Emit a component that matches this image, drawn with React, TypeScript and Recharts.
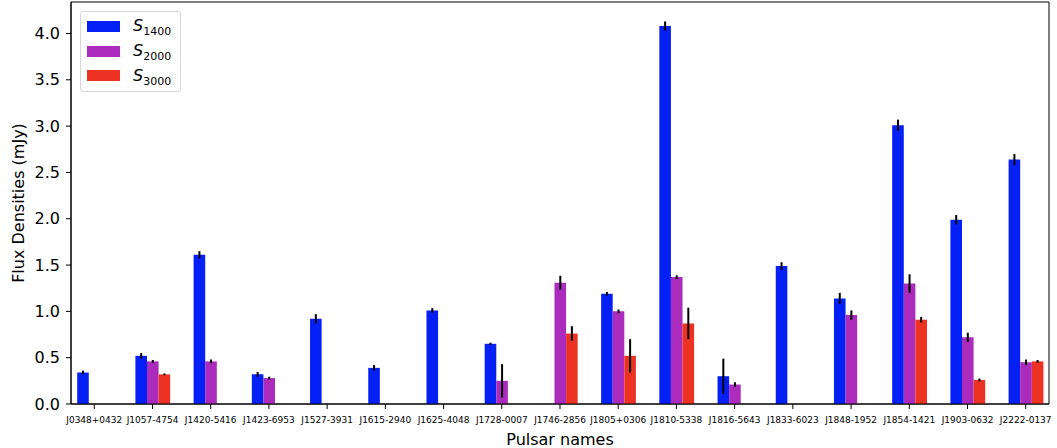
import React from 'react';
import { BarChart, Bar, XAxis, YAxis, ErrorBar, Legend, ReferenceArea } from 'recharts';

const pulsars = [
  'J0348+0432', 'J1057-4754', 'J1420-5416', 'J1423-6953', 'J1527-3931', 'J1615-2940',
  'J1625-4048', 'J1728-0007', 'J1746-2856', 'J1805+0306', 'J1810-5338', 'J1816-5643',
  'J1833-6023', 'J1848-1952', 'J1854-1421', 'J1903-0632', 'J2222-0137',
];

const s1400 = [0.34, 0.52, 1.61, 0.32, 0.92, 0.39, 1.01, 0.65, null, 1.19, 4.08, 0.3, 1.49, 1.14, 3.01, 1.99, 2.64];
const s1400Err = [0.02, 0.03, 0.04, 0.025, 0.05, 0.03, 0.025, 0.012, null, 0.02, 0.05, 0.19, 0.04, 0.06, 0.06, 0.05, 0.06];
const s2000 = [null, 0.46, 0.46, 0.28, null, null, null, 0.25, 1.31, 1.0, 1.37, 0.21, null, 0.96, 1.3, 0.72, 0.45];
const s2000Err = [null, 0.015, 0.02, 0.015, null, null, null, 0.18, 0.075, 0.02, 0.02, 0.025, null, 0.05, 0.1, 0.05, 0.03];
const s3000 = [null, 0.32, null, null, null, null, null, null, 0.76, 0.52, 0.87, null, null, null, 0.91, 0.26, 0.46];
const s3000Err = [null, 0.01, null, null, null, null, null, null, 0.08, 0.18, 0.17, null, null, null, 0.03, 0.015, 0.015];

const yTicks = [0, 0.5, 1, 1.5, 2, 2.5, 3, 3.5, 4];

const COLORS = { s1400: '#0520f5', s2000: '#ab2cbc', s3000: '#ec3323' };
const FONT = '"DejaVu Sans", sans-serif';

const data = pulsars.map((name, i) => ({
  idx: i,
  name,
  s1400: s1400[i],
  s1400Err: s1400Err[i],
  s2000: s2000[i],
  s2000Err: s2000Err[i],
  s3000: s3000[i],
  s3000Err: s3000Err[i],
}));

const legendItems = [
  { key: 's1400', sub: '1400' },
  { key: 's2000', sub: '2000' },
  { key: 's3000', sub: '3000' },
];

const FluxLegend = () => (
  <div
    style={{
      border: '1px solid #d6d6d6',
      borderRadius: 3,
      padding: '2px 9px 3px 6px',
      background: '#fff',
      fontFamily: FONT,
      color: '#000',
    }}
  >
    {legendItems.map((item) => (
      <div key={item.key} style={{ display: 'flex', alignItems: 'center', height: 24.7 }}>
        <span
          style={{
            display: 'inline-block',
            width: 33,
            height: 11,
            background: COLORS[item.key as keyof typeof COLORS],
            marginRight: 13,
          }}
        />
        <span style={{ fontSize: 16, fontStyle: 'italic', lineHeight: 1 }}>
          S
          <span style={{ fontStyle: 'normal', fontSize: 11, position: 'relative', top: 4 }}>{item.sub}</span>
        </span>
      </div>
    ))}
  </div>
);

export default function App() {
  return (
    <div style={{ position: 'absolute', left: 0, top: 0, background: '#fff' }}>
      <BarChart
        width={1057}
        height={448}
        data={data}
        margin={{ top: 2, right: 8, bottom: 0, left: 0 }}
        barGap={0}
        barSize={11.6}
      >
        <XAxis
          dataKey="idx"
          type="number"
          domain={[-0.4, 16.4]}
          ticks={pulsars.map((_, i) => i)}
          interval={0}
          tickFormatter={(v: number) => pulsars[v]}
          height={44}
          tickSize={5}
          tickMargin={8}
          stroke="#000"
          tick={{ fontSize: 9, fill: '#000', fontFamily: FONT }}
          label={({ viewBox }: any) => (
            <text
              x={viewBox.x + viewBox.width / 2}
              y={viewBox.y + 35}
              textAnchor="middle"
              dominantBaseline="central"
              fontSize={16}
              fontFamily={FONT}
              fill="#000"
            >
              Pulsar names
            </text>
          )}
        />
        <YAxis
          type="number"
          domain={[0, 4.34]}
          ticks={yTicks}
          tickFormatter={(v: number) => v.toFixed(1)}
          width={71}
          tickSize={5}
          tickMargin={6}
          stroke="#000"
          tick={{ fontSize: 16, fill: '#000', fontFamily: FONT }}
          label={({ viewBox }: any) => (
            <text
              x={18}
              y={viewBox.y + viewBox.height / 2}
              textAnchor="middle"
              dominantBaseline="central"
              fontSize={16}
              fontFamily={FONT}
              fill="#000"
              transform={`rotate(-90, 18, ${viewBox.y + viewBox.height / 2})`}
            >
              Flux Densities (mJy)
            </text>
          )}
        />
        <Legend
          layout="horizontal"
          verticalAlign="middle"
          align="center"
          content={() => <FluxLegend />}
          wrapperStyle={{ left: 80, top: 11, width: 'auto', height: 'auto' }}
        />
        <Bar dataKey="s1400" fill={COLORS.s1400} isAnimationActive={false}>
          <ErrorBar dataKey="s1400Err" width={0} strokeWidth={2} stroke="#000" direction="y" />
        </Bar>
        <Bar dataKey="s2000" fill={COLORS.s2000} isAnimationActive={false}>
          <ErrorBar dataKey="s2000Err" width={0} strokeWidth={2} stroke="#000" direction="y" />
        </Bar>
        <Bar dataKey="s3000" fill={COLORS.s3000} isAnimationActive={false}>
          <ErrorBar dataKey="s3000Err" width={0} strokeWidth={2} stroke="#000" direction="y" />
        </Bar>
        <ReferenceArea
          x1={-0.4}
          x2={16.4}
          y1={0}
          y2={4.34}
          fill="none"
          stroke="#000"
          strokeWidth={1}
          ifOverflow="visible"
        />
      </BarChart>
    </div>
  );
}
